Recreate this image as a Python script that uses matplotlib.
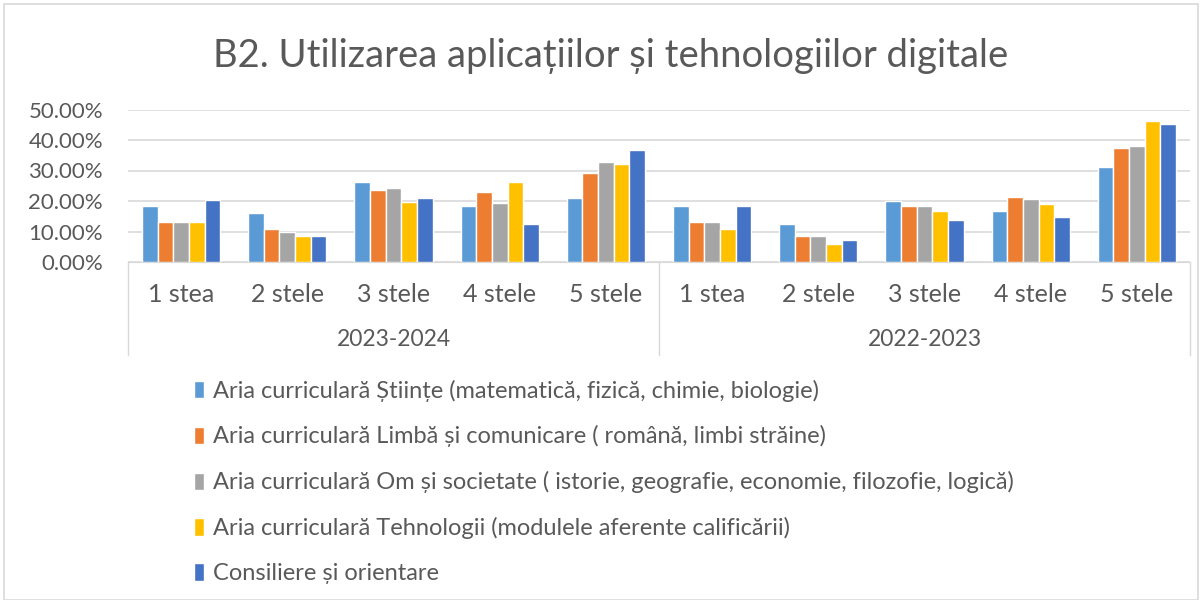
import matplotlib.pyplot as plt
from matplotlib.patches import Rectangle
from matplotlib.ticker import PercentFormatter
import numpy as np

plt.rcParams['font.family'] = ['Lato', 'DejaVu Sans']

years = ['2023-2024', '2022-2023']
stars = ['1 stea', '2 stele', '3 stele', '4 stele', '5 stele']

series_names = [
    'Aria curriculară Științe (matematică, fizică, chimie, biologie)',
    'Aria curriculară Limbă și comunicare ( română, limbi străine)',
    'Aria curriculară Om și societate ( istorie, geografie, economie, filozofie, logică)',
    'Aria curriculară Tehnologii (modulele aferente calificării)',
    'Consiliere și orientare',
]
colors = ['#5B9BD5', '#ED7D31', '#A5A5A5', '#FFC000', '#4472C4']

# values in %, 10 categories (5 per school year)
stiinte = [18.2, 16.0, 26.1, 18.2, 21.1, 18.5, 12.6, 20.1, 16.8, 31.2]
limba = [13.0, 10.9, 23.7, 22.8, 29.1, 13.0, 8.4, 18.5, 21.4, 37.5]
om_soc = [13.0, 9.7, 24.1, 19.5, 32.9, 13.0, 8.4, 18.5, 20.7, 37.9]
tehno = [13.0, 8.4, 19.8, 26.1, 32.1, 10.9, 5.9, 16.8, 18.9, 46.3]
consil = [20.2, 8.4, 21.1, 12.3, 36.7, 18.2, 7.2, 13.9, 14.8, 45.1]
all_series = [stiinte, limba, om_soc, tehno, consil]

txt = '#595959'
fig = plt.figure(figsize=(12.03, 6), dpi=100)
ax = fig.add_axes([128 / 1203, 1 - 262 / 600, (1190 - 128) / 1203, 152.5 / 600])

x = np.arange(len(years) * len(stars))
w = 0.147
handles = []
for i, (vals, c) in enumerate(zip(all_series, colors)):
    b = ax.bar(x + (i - 2) * w, np.array(vals) / 100, width=w, color=c,
               edgecolor='white', linewidth=1, zorder=3)
    handles.append(b)

ax.set_xlim(-0.5, len(x) - 0.5)
ax.set_ylim(0, 0.5)
ax.set_yticks(np.arange(0, 0.51, 0.1))
ax.yaxis.set_major_formatter(PercentFormatter(xmax=1, decimals=2))
ax.grid(axis='y', color='#D9D9D9', linewidth=1.2, zorder=0)
for s in ['top', 'right', 'left']:
    ax.spines[s].set_visible(False)
ax.spines['bottom'].set_color('#D9D9D9')
ax.tick_params(axis='y', length=0, pad=18, labelsize=16, labelcolor=txt)
ax.set_xticks(x)
ax.set_xticklabels(stars * len(years))
ax.tick_params(axis='x', length=0, pad=15, labelsize=18, labelcolor=txt)

# group separators and year labels
tr = ax.get_xaxis_transform()
for sx in [-0.5, 4.5, 9.5]:
    ax.plot([sx, sx], [0, -0.61], color='#D9D9D9', linewidth=1, transform=tr, clip_on=False)
for g, yr in enumerate(years):
    ax.text(g * 5 + 2, -0.51, yr, transform=tr, ha='center', va='center',
            fontsize=16.5, color=txt)

fig.text(611 / 1203, 1 - 56 / 600, 'B2. Utilizarea aplicațiilor și tehnologiilor digitale',
         ha='center', va='center', fontsize=27.5, color=txt)

fig.legend(handles, series_names, loc='upper left',
           bbox_to_anchor=(185 / 1203, 1 - 370 / 600), frameon=False,
           fontsize=17, labelcolor=txt, handlelength=0.42, handleheight=0.75,
           handletextpad=0.35, labelspacing=1.01, borderaxespad=0)

fig.patches.append(Rectangle((4 / 1203, 0), 1194 / 1203, 1 - 4 / 600,
                             transform=fig.transFigure, fill=False,
                             edgecolor='#D9D9D9', linewidth=1.2))

fig.savefig('out.png', dpi=100)
